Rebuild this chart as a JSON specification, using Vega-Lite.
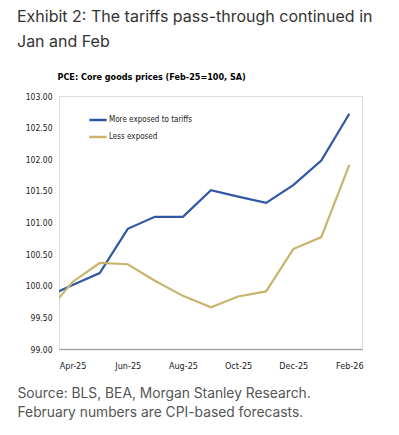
{
  "$schema": "https://vega.github.io/schema/vega-lite/v6.json",
  "autosize": {"type": "none"},
  "width": 303,
  "height": 253,
  "padding": {"left": 59, "top": 96, "right": 37, "bottom": 86},
  "background": "white",
  "title": {
    "text": ["Exhibit 2: The tariffs pass-through continued in", "Jan and Feb"],
    "anchor": "start",
    "frame": "group",
    "dx": -42,
    "offset": 22,
    "font": "Inter",
    "fontSize": 16,
    "fontWeight": "normal",
    "color": "#333333",
    "lineHeight": 25
  },
  "data": {
    "values": [
      {"date": "2025-03-01", "series": "More exposed to tariffs", "value": 99.81},
      {"date": "2025-04-01", "series": "More exposed to tariffs", "value": 100.01},
      {"date": "2025-05-01", "series": "More exposed to tariffs", "value": 100.20},
      {"date": "2025-06-01", "series": "More exposed to tariffs", "value": 100.90},
      {"date": "2025-07-01", "series": "More exposed to tariffs", "value": 101.09},
      {"date": "2025-08-01", "series": "More exposed to tariffs", "value": 101.09},
      {"date": "2025-09-01", "series": "More exposed to tariffs", "value": 101.51},
      {"date": "2025-10-01", "series": "More exposed to tariffs", "value": 101.41},
      {"date": "2025-11-01", "series": "More exposed to tariffs", "value": 101.31},
      {"date": "2025-12-01", "series": "More exposed to tariffs", "value": 101.59},
      {"date": "2026-01-01", "series": "More exposed to tariffs", "value": 101.98},
      {"date": "2026-02-01", "series": "More exposed to tariffs", "value": 102.72},
      {"date": "2025-03-01", "series": "Less exposed", "value": 99.54},
      {"date": "2025-04-01", "series": "Less exposed", "value": 100.06},
      {"date": "2025-05-01", "series": "Less exposed", "value": 100.36},
      {"date": "2025-06-01", "series": "Less exposed", "value": 100.34},
      {"date": "2025-07-01", "series": "Less exposed", "value": 100.08},
      {"date": "2025-08-01", "series": "Less exposed", "value": 99.84},
      {"date": "2025-09-01", "series": "Less exposed", "value": 99.66},
      {"date": "2025-10-01", "series": "Less exposed", "value": 99.83},
      {"date": "2025-11-01", "series": "Less exposed", "value": 99.91},
      {"date": "2025-12-01", "series": "Less exposed", "value": 100.58},
      {"date": "2026-01-01", "series": "Less exposed", "value": 100.77},
      {"date": "2026-02-01", "series": "Less exposed", "value": 101.91}
    ]
  },
  "mark": {"type": "line", "strokeWidth": 2.2, "clip": true},
  "encoding": {
    "x": {
      "field": "date",
      "type": "temporal",
      "scale": {
        "type": "utc",
        "domain": [
          {"year": 2025, "month": 3, "date": 17, "utc": true},
          {"year": 2026, "month": 2, "date": 15, "utc": true}
        ]
      },
      "axis": {
        "values": [
          {"year": 2025, "month": 4, "date": 1, "utc": true},
          {"year": 2025, "month": 6, "date": 1, "utc": true},
          {"year": 2025, "month": 8, "date": 1, "utc": true},
          {"year": 2025, "month": 10, "date": 1, "utc": true},
          {"year": 2025, "month": 12, "date": 1, "utc": true},
          {"year": 2026, "month": 2, "date": 1, "utc": true}
        ],
        "labelExpr": "utcFormat(datum.value, '%b-%y')",
        "grid": false,
        "ticks": false,
        "domainColor": "#a6a6a6",
        "domainWidth": 1.5,
        "labelFont": "Arial Narrow, DejaVu Sans Condensed, Liberation Sans",
        "labelFontSize": 9,
        "labelColor": "#1a1a1a",
        "labelPadding": 12,
        "labelFlush": false,
        "title": ["Source: BLS, BEA, Morgan Stanley Research.", "February numbers are CPI-based forecasts."],
        "titleFont": "Inter",
        "titleFontSize": 13.8,
        "titleFontWeight": "normal",
        "titleColor": "#555555",
        "titleAnchor": "start",
        "titleAlign": "left",
        "titleBaseline": "middle",
        "titleLineHeight": 19,
        "titleX": -42,
        "titleY": 44
      }
    },
    "y": {
      "field": "value",
      "type": "quantitative",
      "scale": {"domain": [99, 103], "zero": false, "nice": false},
      "axis": {
        "values": [99, 99.5, 100, 100.5, 101, 101.5, 102, 102.5, 103],
        "format": ".2f",
        "grid": false,
        "ticks": false,
        "domain": false,
        "labelFont": "Arial Narrow, DejaVu Sans Condensed, Liberation Sans",
        "labelFontSize": 8.5,
        "labelColor": "#1a1a1a",
        "labelPadding": 7,
        "title": "PCE: Core goods prices (Feb-25=100, SA)",
        "titleFont": "Arial Narrow, DejaVu Sans Condensed, Liberation Sans",
        "titleFontSize": 9,
        "titleFontWeight": "bold",
        "titleColor": "#000000",
        "titleAngle": 0,
        "titleAlign": "left",
        "titleBaseline": "middle",
        "titleX": -2,
        "titleY": -20
      }
    },
    "color": {
      "field": "series",
      "type": "nominal",
      "sort": ["More exposed to tariffs", "Less exposed"],
      "scale": {
        "domain": ["More exposed to tariffs", "Less exposed"],
        "range": ["#2f57a3", "#c9b46d"]
      },
      "legend": {
        "title": null,
        "orient": "none",
        "legendX": 29,
        "legendY": 14,
        "symbolType": "stroke",
        "symbolSize": 300,
        "symbolStrokeWidth": 2.5,
        "labelFont": "Arial Narrow, DejaVu Sans Condensed, Liberation Sans",
        "labelFontSize": 8,
        "labelColor": "#1a1a1a",
        "labelOffset": 1,
        "rowPadding": 2
      }
    }
  }
}
